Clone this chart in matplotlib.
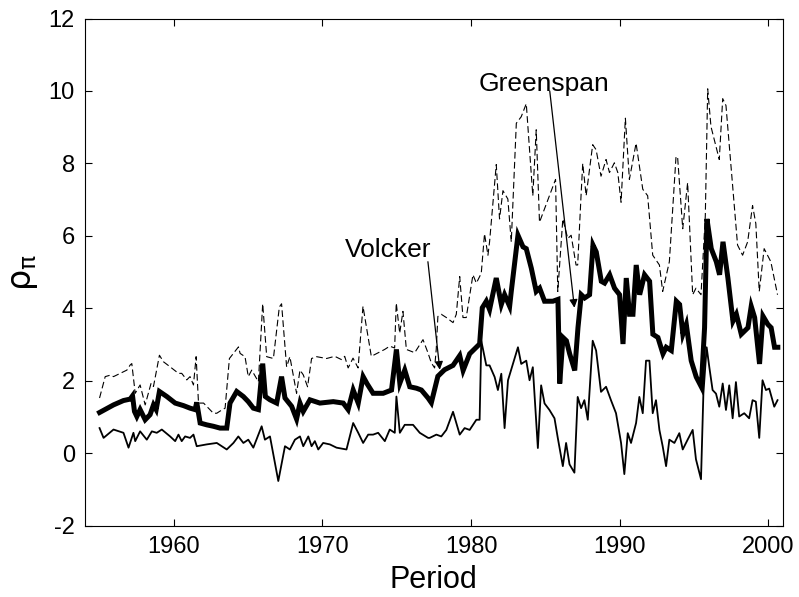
import matplotlib
matplotlib.use('Agg')
import matplotlib.pyplot as plt

plt.rcParams['axes.unicode_minus'] = False
plt.rcParams['mathtext.fontset'] = 'dejavusans'
plt.rcParams['mathtext.default'] = 'regular'

# median (thick line)
yr_mid = [1955.00, 1955.94, 1956.61, 1957.06, 1957.22, 1957.35, 1957.51, 1957.73, 1958.07, 1958.40,
          1958.63, 1958.81, 1959.03, 1959.53, 1960.09, 1960.65, 1961.09, 1961.43, 1961.54, 1961.77,
          1962.21, 1962.66, 1963.11, 1963.56, 1963.78, 1964.23, 1964.68, 1965.01, 1965.35, 1965.69,
          1965.98, 1966.16, 1966.47, 1966.92, 1967.25, 1967.48, 1967.93, 1968.26, 1968.49, 1968.71,
          1969.16, 1969.83, 1970.73, 1971.40, 1971.73, 1972.07, 1972.41, 1972.74, 1973.01, 1973.41,
          1974.09, 1974.65, 1974.98, 1975.21, 1975.54, 1975.88, 1976.33, 1976.66, 1977.11, 1977.33,
          1977.77, 1978.22, 1978.79, 1979.24, 1979.47, 1979.91, 1980.36, 1980.58, 1980.76, 1981.03,
          1981.25, 1981.70, 1982.04, 1982.26, 1982.60, 1982.71, 1983.16, 1983.50, 1983.72, 1984.06,
          1984.39, 1984.62, 1984.95, 1985.51, 1985.85, 1985.97, 1986.19, 1986.42, 1986.64, 1986.98,
          1987.20, 1987.42, 1987.65, 1987.98, 1988.21, 1988.43, 1988.77, 1988.99, 1989.33, 1989.66,
          1990.00, 1990.23, 1990.45, 1990.67, 1990.90, 1991.12, 1991.35, 1991.68, 1992.02, 1992.24,
          1992.58, 1992.92, 1993.14, 1993.48, 1993.82, 1994.04, 1994.26, 1994.49, 1994.82, 1995.16,
          1995.50, 1995.72, 1995.88, 1996.17, 1996.51, 1996.73, 1996.96, 1997.29, 1997.63, 1997.86,
          1998.19, 1998.64, 1998.86, 1999.09, 1999.42, 1999.65, 1999.98, 2000.20, 2000.43, 2000.65]
rho_mid = [1.13, 1.34, 1.46, 1.50, 1.59, 1.16, 1.02, 1.21, 0.93, 1.07,
           1.34, 1.21, 1.71, 1.57, 1.39, 1.32, 1.25, 1.21, 1.41, 0.84,
           0.79, 0.75, 0.70, 0.70, 1.39, 1.71, 1.57, 1.43, 1.25, 1.21,
           2.48, 1.57, 1.48, 1.39, 2.12, 1.53, 1.30, 0.95, 1.39, 1.16,
           1.48, 1.39, 1.43, 1.39, 1.21, 1.75, 1.39, 2.12, 1.92, 1.66,
           1.66, 1.75, 2.87, 1.94, 2.30, 1.84, 1.80, 1.75, 1.53, 1.40,
           2.13, 2.31, 2.43, 2.70, 2.29, 2.75, 2.93, 3.02, 4.02, 4.20,
           3.97, 4.84, 4.11, 4.38, 4.06, 4.47, 6.02, 5.70, 5.65, 5.11,
           4.47, 4.56, 4.20, 4.20, 4.25, 1.93, 3.20, 3.11, 2.75, 2.29,
           3.47, 4.38, 4.29, 4.38, 5.75, 5.56, 4.75, 4.70, 4.93, 4.56,
           4.38, 3.02, 4.84, 3.84, 3.84, 5.20, 4.38, 4.93, 4.75, 3.29,
           3.20, 2.75, 2.93, 2.84, 4.20, 4.11, 3.29, 3.56, 2.56, 2.11,
           1.84, 3.47, 6.47, 5.65, 5.29, 4.93, 5.84, 4.84, 3.65, 3.84,
           3.29, 3.47, 4.06, 3.75, 2.47, 3.79, 3.56, 3.47, 2.93, 2.93]

# upper band (dashed)
yr_hi = [1955.00, 1955.38, 1955.72, 1955.94, 1956.39, 1956.84, 1957.06, 1957.17, 1957.40, 1957.73,
         1958.07, 1958.47, 1958.63, 1959.03, 1959.30, 1959.75, 1960.31, 1960.53, 1960.87, 1961.09,
         1961.32, 1961.50, 1961.66, 1962.00, 1962.33, 1962.66, 1962.89, 1963.23, 1963.45, 1963.74,
         1964.01, 1964.35, 1964.46, 1964.79, 1965.01, 1965.24, 1965.69, 1965.98, 1966.25, 1966.70,
         1967.10, 1967.25, 1967.59, 1967.81, 1968.26, 1968.49, 1968.71, 1969.00, 1969.27, 1969.61,
         1970.28, 1970.83, 1971.28, 1971.50, 1971.73, 1972.06, 1972.40, 1972.73, 1973.29, 1974.19,
         1974.53, 1974.86, 1974.97, 1975.20, 1975.42, 1975.65, 1976.21, 1976.77, 1977.10, 1977.33,
         1977.55, 1977.66, 1977.77, 1978.00, 1978.34, 1978.79, 1979.01, 1979.24, 1979.46, 1979.68,
         1980.13, 1980.36, 1980.69, 1980.91, 1981.14, 1981.25, 1981.70, 1981.92, 1982.15, 1982.48,
         1982.71, 1983.05, 1983.38, 1983.72, 1983.94, 1984.16, 1984.39, 1984.61, 1984.95, 1985.28,
         1985.69, 1985.84, 1986.18, 1986.51, 1986.74, 1987.07, 1987.18, 1987.41, 1987.52, 1987.75,
         1988.19, 1988.42, 1988.75, 1989.09, 1989.32, 1989.65, 1989.88, 1990.10, 1990.39, 1990.66,
         1991.11, 1991.56, 1991.89, 1992.23, 1992.68, 1992.90, 1993.35, 1993.80, 1993.91, 1994.25,
         1994.58, 1994.92, 1995.14, 1995.48, 1995.77, 1995.93, 1996.15, 1996.71, 1996.94, 1997.16,
         1997.94, 1998.28, 1998.62, 1998.95, 1999.17, 1999.40, 1999.73, 2000.18, 2000.63]
rho_hi = [1.53, 2.12, 2.16, 2.12, 2.21, 2.30, 2.44, 2.48, 1.66, 1.89,
          1.34, 1.94, 1.85, 2.71, 2.53, 2.39, 2.21, 2.21, 2.03, 2.12,
          1.89, 2.67, 1.39, 1.39, 1.25, 1.11, 1.11, 1.20, 1.25, 2.62,
          2.76, 2.94, 2.76, 2.67, 2.12, 2.30, 1.98, 4.13, 2.67, 2.62,
          4.04, 4.13, 2.39, 2.67, 1.66, 2.30, 2.17, 1.84, 2.62, 2.67,
          2.62, 2.68, 2.59, 2.68, 2.36, 2.63, 2.36, 4.06, 2.68, 2.87,
          2.96, 2.91, 4.15, 3.32, 3.92, 2.87, 2.78, 3.14, 2.78, 2.50,
          2.36, 2.87, 3.78, 3.84, 3.75, 3.61, 3.84, 4.88, 3.75, 3.75,
          4.93, 4.70, 4.97, 6.06, 5.47, 5.84, 7.97, 6.47, 7.25, 7.02,
          5.84, 9.11, 9.29, 9.65, 8.38, 7.11, 8.93, 6.38, 6.75, 7.11,
          7.56, 4.47, 6.47, 5.93, 6.02, 5.20, 5.20, 7.15, 8.00, 7.11,
          8.52, 8.38, 7.65, 8.11, 7.75, 8.02, 7.75, 6.93, 9.25, 7.56,
          8.56, 7.29, 7.11, 5.47, 5.20, 4.47, 5.29, 8.20, 8.15, 6.20,
          7.47, 4.38, 4.56, 4.38, 6.56, 10.06, 9.02, 8.11, 9.79, 9.60,
          5.75, 5.47, 5.84, 6.84, 6.34, 4.47, 5.65, 5.29, 4.38]

# lower band (thin solid)
yr_lo = [1955.00, 1955.27, 1955.94, 1956.61, 1956.95, 1957.28, 1957.40, 1957.73, 1958.18, 1958.52,
         1958.85, 1959.19, 1959.75, 1960.09, 1960.31, 1960.53, 1960.76, 1961.09, 1961.32, 1961.54,
         1962.21, 1962.89, 1963.56, 1964.01, 1964.34, 1964.68, 1965.01, 1965.35, 1965.91, 1966.13,
         1966.47, 1967.03, 1967.48, 1967.81, 1968.15, 1968.49, 1968.71, 1969.05, 1969.27, 1969.49,
         1969.72, 1970.05, 1970.50, 1970.95, 1971.62, 1972.07, 1972.41, 1972.74, 1973.08, 1973.41,
         1973.75, 1974.20, 1974.53, 1974.87, 1974.98, 1975.21, 1975.54, 1976.10, 1976.55, 1977.11,
         1977.22, 1977.67, 1978.00, 1978.34, 1978.79, 1979.24, 1979.57, 1979.91, 1980.36, 1980.58,
         1980.69, 1981.03, 1981.25, 1981.59, 1981.81, 1982.04, 1982.26, 1982.49, 1982.82, 1983.16,
         1983.38, 1983.72, 1983.94, 1984.16, 1984.50, 1984.72, 1984.95, 1985.28, 1985.62, 1985.84,
         1986.18, 1986.40, 1986.63, 1986.96, 1987.18, 1987.41, 1987.63, 1987.86, 1988.19, 1988.42,
         1988.75, 1989.09, 1989.42, 1989.76, 1990.10, 1990.32, 1990.55, 1990.77, 1991.11, 1991.33,
         1991.56, 1991.78, 1992.01, 1992.23, 1992.45, 1992.68, 1992.90, 1993.13, 1993.35, 1993.69,
         1994.02, 1994.25, 1994.58, 1994.92, 1995.14, 1995.48, 1995.64, 1995.86, 1996.04, 1996.26,
         1996.49, 1996.71, 1996.94, 1997.16, 1997.38, 1997.61, 1997.83, 1998.05, 1998.39, 1998.72,
         1998.95, 1999.17, 1999.40, 1999.62, 1999.85, 2000.07, 2000.41, 2000.63]
rho_lo = [0.70, 0.43, 0.66, 0.57, 0.16, 0.57, 0.34, 0.61, 0.38, 0.61,
          0.57, 0.66, 0.47, 0.34, 0.52, 0.34, 0.47, 0.43, 0.52, 0.20,
          0.25, 0.29, 0.11, 0.29, 0.47, 0.29, 0.38, 0.16, 0.75, 0.38,
          0.47, -0.76, 0.20, 0.11, 0.38, 0.47, 0.20, 0.47, 0.20, 0.34,
          0.11, 0.29, 0.25, 0.16, 0.11, 0.84, 0.57, 0.29, 0.52, 0.52,
          0.57, 0.34, 0.66, 0.57, 1.57, 0.57, 0.79, 0.79, 0.57, 0.43,
          0.43, 0.52, 0.47, 0.65, 1.15, 0.52, 0.70, 0.65, 0.93, 0.93,
          3.11, 2.43, 2.43, 2.11, 1.75, 2.20, 0.70, 2.02, 2.47, 2.93,
          2.47, 2.56, 2.02, 2.38, 0.15, 1.88, 1.38, 1.20, 0.97, 0.43,
          -0.35, 0.29, -0.30, -0.53, 1.56, 1.25, 1.47, 0.93, 3.11, 2.84,
          1.70, 1.84, 1.47, 1.11, 0.29, -0.57, 0.56, 0.29, 0.84, 1.56,
          1.11, 2.56, 2.56, 1.11, 1.47, 0.65, 0.20, -0.35, 0.38, 0.29,
          0.56, 0.11, 0.38, 0.65, -0.16, -0.71, 1.65, 2.93, 2.38, 1.75,
          1.65, 1.29, 1.93, 1.20, 1.88, 0.97, 1.97, 1.02, 1.11, 0.97,
          1.47, 1.43, 0.43, 2.02, 1.75, 1.79, 1.29, 1.47]

tick_font = ['Liberation Sans Narrow', 'Liberation Sans', 'DejaVu Sans']
text_font = ['Liberation Sans', 'DejaVu Sans']

fig = plt.figure(figsize=(7.99, 5.97), dpi=100)
ax = fig.add_axes([0.106, 0.119, 0.874, 0.850])

ax.plot(yr_hi, rho_hi, color='k', lw=0.8, ls=(0, (6, 3)))
ax.plot(yr_lo, rho_lo, color='k', lw=1.3)
ax.plot(yr_mid, rho_mid, color='k', lw=3.6, solid_joinstyle='miter')

ax.set_xlim(1954, 2001)
ax.set_ylim(-2, 12)
ax.set_xticks([1960, 1970, 1980, 1990, 2000])
ax.set_yticks(range(-2, 13, 2))
ax.tick_params(direction='in', top=True, right=True, length=5, width=0.8, pad=7)
for lab in ax.get_xticklabels() + ax.get_yticklabels():
    lab.set_family(tick_font)
    lab.set_fontsize(17)

ax.set_xlabel('Period', fontsize=22, family=text_font, labelpad=5)
ax.set_ylabel(r'$\rho_{\pi}$', fontsize=24, labelpad=6)

# annotations
ax.text(1974.4, 5.62, 'Volcker', fontsize=19, family=text_font, ha='center', va='center')
ax.annotate('', xy=(1977.9, 2.31), xytext=(1977.1, 5.29),
            arrowprops=dict(arrowstyle='-|>', color='k', lw=0.9, mutation_scale=12, shrinkA=0, shrinkB=0))
ax.text(1984.9, 10.19, 'Greenspan', fontsize=19, family=text_font, ha='center', va='center')
ax.annotate('', xy=(1986.96, 4.02), xytext=(1985.3, 10.0),
            arrowprops=dict(arrowstyle='-|>', color='k', lw=0.9, mutation_scale=12, shrinkA=0, shrinkB=0))

fig.savefig('out.png', dpi=100)
